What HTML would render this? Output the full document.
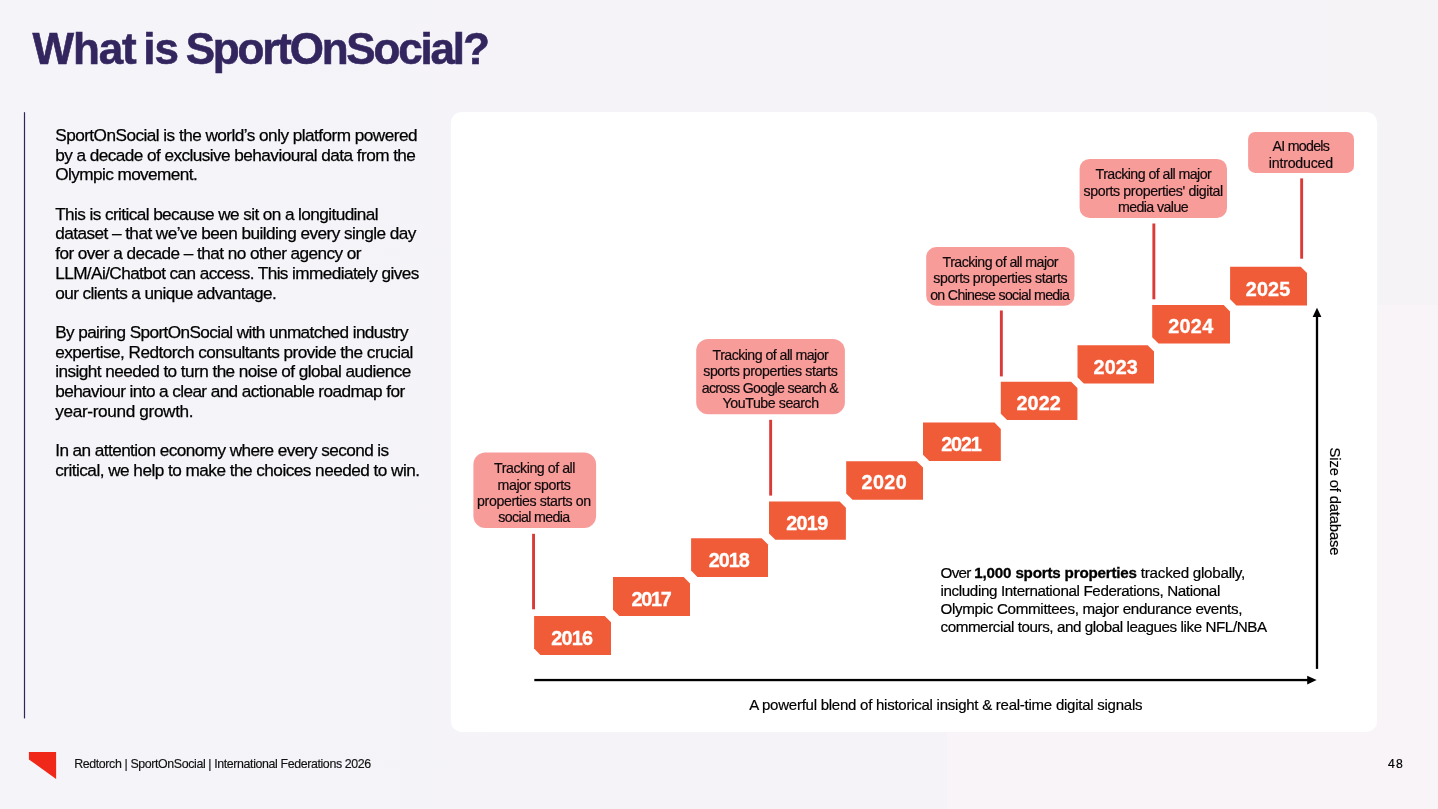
<!DOCTYPE html>
<html lang="en">
<head>
<meta charset="utf-8">
<title>What is SportOnSocial?</title>
<meta name="viewport" content="width=1438, initial-scale=1">
<style>

html,body{margin:0;padding:0;}
body{width:1438px;height:809px;overflow:hidden;background:#f5f3f8;font-family:"Liberation Sans",sans-serif;color:#000;}
#slide{position:relative;width:1438px;height:809px;overflow:hidden;background:linear-gradient(90deg,#f5f4f9 0%,#f5f3f8 50%,#f6f3f7 100%);}
h1,p,footer,section{margin:0;padding:0;}
.shapes{position:absolute;left:0;top:0;width:1438px;height:809px;display:block;}
.ln{position:absolute;white-space:nowrap;display:block;margin:0;padding:0;font-weight:400;}
h1.title .ln{font-size:44px;font-weight:700;color:#33265f;-webkit-text-stroke:0.6px #33265f;}
.body .ln{font-size:17.2px;color:#000;-webkit-text-stroke:0.25px #000;}
.callout .ln{font-size:14.2px;color:#100a0c;-webkit-text-stroke:0.2px #100a0c;}
.years .ln{font-size:19.8px;font-weight:700;color:#fff;-webkit-text-stroke:0.35px #fff;}
.note .ln{font-size:15.2px;color:#000;-webkit-text-stroke:0.2px #000;}
.note strong.ln{font-weight:700;-webkit-text-stroke:0.3px #000;}
.cap .ln{font-size:15px;color:#000;-webkit-text-stroke:0.2px #000;}
.ylabel{position:absolute;left:1330.4px;top:448.4px;width:0;height:0;transform:rotate(90deg);transform-origin:0 0;}
.ylabel .ln{font-size:14.8px;color:#000;-webkit-text-stroke:0.2px #000;}
.foot .ln{font-size:12.4px;color:#111;-webkit-text-stroke:0.15px #111;}
.pg .ln{font-size:12.2px;color:#000;-webkit-text-stroke:0.2px #000;}

</style>
</head>
<body>
<div id="slide">
<h1 class="title"><span class="ln" style="left:32.62px;top:24px;line-height:49px;letter-spacing:-1.161px">What</span> <span class="ln" style="left:143.14px;top:24px;line-height:49px;letter-spacing:-0.834px">is</span> <span class="ln" style="left:185.70px;top:24px;line-height:49px;letter-spacing:-2.185px">SportOnSocial?</span></h1>
<section class="body">
<p>
<span class="ln" style="left:55.21px;top:125px;line-height:20px;letter-spacing:-0.535px">SportOnSocial is the world’s only platform powered</span>
<span class="ln" style="left:55.21px;top:145px;line-height:20px;letter-spacing:-0.555px">by a decade of exclusive behavioural data from the</span>
<span class="ln" style="left:55.21px;top:164px;line-height:20px;letter-spacing:-0.582px">Olympic movement.</span>
</p>
<p>
<span class="ln" style="left:55.21px;top:204px;line-height:20px;letter-spacing:-0.587px">This is critical because we sit on a longitudinal</span>
<span class="ln" style="left:55.21px;top:223px;line-height:20px;letter-spacing:-0.554px">dataset – that we’ve been building every single day</span>
<span class="ln" style="left:55.21px;top:243px;line-height:20px;letter-spacing:-0.554px">for over a decade – that no other agency or</span>
<span class="ln" style="left:55.21px;top:263px;line-height:20px;letter-spacing:-0.589px">LLM/Ai/Chatbot can access. This immediately gives</span>
<span class="ln" style="left:55.21px;top:283px;line-height:20px;letter-spacing:-0.581px">our clients a unique advantage.</span>
</p>
<p>
<span class="ln" style="left:55.21px;top:322px;line-height:20px;letter-spacing:-0.612px">By pairing SportOnSocial with unmatched industry</span>
<span class="ln" style="left:55.21px;top:342px;line-height:20px;letter-spacing:-0.539px">expertise, Redtorch consultants provide the crucial</span>
<span class="ln" style="left:55.21px;top:361px;line-height:20px;letter-spacing:-0.560px">insight needed to turn the noise of global audience</span>
<span class="ln" style="left:55.21px;top:381px;line-height:20px;letter-spacing:-0.593px">behaviour into a clear and actionable roadmap for</span>
<span class="ln" style="left:55.21px;top:401px;line-height:20px;letter-spacing:-0.345px">year-round growth.</span>
</p>
<p>
<span class="ln" style="left:55.21px;top:440px;line-height:20px;letter-spacing:-0.574px">In an attention economy where every second is</span>
<span class="ln" style="left:55.21px;top:460px;line-height:20px;letter-spacing:-0.526px">critical, we help to make the choices needed to win.</span>
</p>
</section>
<section class="chart">
<svg class="shapes" viewBox="0 0 1438 809" width="1438" height="809" aria-hidden="true">
<rect class="tint" x="947" y="305" width="491" height="504" fill="#f8f4f8"/>
<rect class="card" x="450.9" y="111.9" width="926.2" height="620" rx="10.5" ry="10.5" fill="#ffffff"/>
<rect class="rule" x="23.9" y="112.2" width="1.2" height="606.2" fill="#2f2758"/>
<g class="callouts" fill="#f89c9a">
<rect x="473.4" y="452.5" width="122.7" height="75.5" rx="12" ry="12"/>
<rect x="696.2" y="338.9" width="148.7" height="75.4" rx="12" ry="12"/>
<rect x="926.2" y="247.0" width="148.3" height="58.8" rx="10" ry="10"/>
<rect x="1079.6" y="158.9" width="147.4" height="59.1" rx="10" ry="10"/>
<rect x="1248.1" y="132.0" width="105.9" height="40.9" rx="7" ry="7"/>
</g>
<g class="connectors" fill="#db3b38">
<rect x="532.1" y="533.8" width="2.9" height="75.5"/>
<rect x="769.2" y="419.8" width="2.9" height="75.8"/>
<rect x="999.9" y="310.5" width="2.9" height="65.9"/>
<rect x="1152.4" y="223.5" width="2.9" height="75.8"/>
<rect x="1300.2" y="178.4" width="2.9" height="80.3"/>
</g>
<g class="years" fill="#f05b38">
<polygon points="534.1,616.0 604.7,616.0 611.0,622.3 611.0,654.9 540.4,654.9 534.1,648.6"/>
<polygon points="613.0,577.1 683.7,577.1 690.0,583.4 690.0,616.0 619.3,616.0 613.0,609.7"/>
<polygon points="691.1,538.2 761.7,538.2 768.0,544.5 768.0,576.9 697.4,576.9 691.1,570.6"/>
<polygon points="769.0,501.4 839.6,501.4 845.9,507.7 845.9,539.8 775.3,539.8 769.0,533.5"/>
<polygon points="846.2,461.3 916.7,461.3 923.0,467.6 923.0,499.7 852.5,499.7 846.2,493.4"/>
<polygon points="923.0,422.6 994.5,422.6 1000.8,428.9 1000.8,461.0 929.3,461.0 923.0,454.7"/>
<polygon points="1000.8,381.7 1071.1,381.7 1077.4,388.0 1077.4,420.1 1007.1,420.1 1000.8,413.8"/>
<polygon points="1077.5,345.2 1147.7,345.2 1154.0,351.5 1154.0,383.6 1083.8,383.6 1077.5,377.3"/>
<polygon points="1152.2,305.1 1223.7,305.1 1230.0,311.4 1230.0,343.5 1158.5,343.5 1152.2,337.2"/>
<polygon points="1230.1,266.7 1300.7,266.7 1307.0,273.0 1307.0,305.6 1236.4,305.6 1230.1,299.3"/>
</g>
<g class="axes" fill="#000">
<rect x="534.3" y="678.9" width="775" height="2.3"/>
<polygon points="1316.6,680.05 1307.2,675.7 1307.2,684.4"/>
<rect x="1315.85" y="316" width="2.3" height="352.9"/>
<polygon points="1317,307.8 1312.6,317 1321.4,317"/>
</g>
<polygon class="logo" points="28.9,752.1 56.1,752.1 56.1,779 28.9,759.4" fill="#f0281a"/>
</svg>
<div class="callout">
<span class="ln" style="left:494.10px;top:460px;line-height:16px;letter-spacing:-0.458px">Tracking of all</span>
<span class="ln" style="left:497.56px;top:477px;line-height:16px;letter-spacing:-0.436px">major sports</span>
<span class="ln" style="left:477.10px;top:493px;line-height:16px;letter-spacing:-0.390px">properties starts on</span>
<span class="ln" style="left:498.24px;top:509px;line-height:16px;letter-spacing:-0.623px">social media</span>
</div>
<div class="callout">
<span class="ln" style="left:712.57px;top:347px;line-height:16px;letter-spacing:-0.550px">Tracking of all major</span>
<span class="ln" style="left:703.24px;top:363px;line-height:16px;letter-spacing:-0.424px">sports properties starts</span>
<span class="ln" style="left:701.73px;top:380px;line-height:16px;letter-spacing:-0.687px">across Google search &amp;</span>
<span class="ln" style="left:722.57px;top:395px;line-height:16px;letter-spacing:-0.439px">YouTube search</span>
</div>
<div class="callout">
<span class="ln" style="left:942.57px;top:254px;line-height:16px;letter-spacing:-0.560px">Tracking of all major</span>
<span class="ln" style="left:933.32px;top:270px;line-height:16px;letter-spacing:-0.440px">sports properties starts</span>
<span class="ln" style="left:930.13px;top:287px;line-height:16px;letter-spacing:-0.670px">on Chinese social media</span>
</div>
<div class="callout">
<span class="ln" style="left:1095.57px;top:166px;line-height:16px;letter-spacing:-0.550px">Tracking of all major</span>
<span class="ln" style="left:1083.54px;top:183px;line-height:16px;letter-spacing:-0.391px">sports properties' digital</span>
<span class="ln" style="left:1117.94px;top:199px;line-height:16px;letter-spacing:-0.582px">media value</span>
</div>
<div class="callout">
<span class="ln" style="left:1272.57px;top:138px;line-height:16px;letter-spacing:-0.718px">AI models</span>
<span class="ln" style="left:1268.83px;top:155px;line-height:16px;letter-spacing:-0.216px">introduced</span>
</div>
<div class="years">
<span class="ln" style="left:551.31px;top:627px;line-height:22px;letter-spacing:-0.759px">2016</span>
<span class="ln" style="left:631.53px;top:588px;line-height:22px;letter-spacing:-1.247px">2017</span>
<span class="ln" style="left:708.84px;top:549px;line-height:22px;letter-spacing:-1.018px">2018</span>
<span class="ln" style="left:786.31px;top:512px;line-height:22px;letter-spacing:-0.713px">2019</span>
<span class="ln" style="left:861.45px;top:471px;line-height:22px;letter-spacing:0.460px">2020</span>
<span class="ln" style="left:941.31px;top:433px;line-height:22px;letter-spacing:-1.182px">2021</span>
<span class="ln" style="left:1016.45px;top:392px;line-height:22px;letter-spacing:0.106px">2022</span>
<span class="ln" style="left:1093.53px;top:356px;line-height:22px;letter-spacing:0.114px">2023</span>
<span class="ln" style="left:1168.31px;top:315px;line-height:22px;letter-spacing:0.284px">2024</span>
<span class="ln" style="left:1245.74px;top:278px;line-height:22px;letter-spacing:0.152px">2025</span>
</div>
<div class="note"><p>
<span class="ln" style="left:940.47px;top:564px;line-height:17px;letter-spacing:-0.650px">Over</span>
<strong class="ln" style="left:974.36px;top:564px;line-height:17px;letter-spacing:-0.201px">1,000 sports properties</strong>
<span class="ln" style="left:1140.87px;top:564px;line-height:17px;letter-spacing:-0.262px">tracked globally,</span>
<span class="ln" style="left:940.47px;top:582px;line-height:17px;letter-spacing:-0.376px">including International Federations, National</span>
<span class="ln" style="left:940.47px;top:600px;line-height:17px;letter-spacing:-0.327px">Olympic Committees, major endurance events,</span>
<span class="ln" style="left:940.47px;top:618px;line-height:17px;letter-spacing:-0.424px">commercial tours, and global leagues like NFL/NBA</span>
</p></div>
<div class="cap"><p><span class="ln" style="left:749.16px;top:696px;line-height:17px;letter-spacing:-0.247px">A powerful blend of historical insight &amp; real-time digital signals</span></p></div>
<div class="ylabel"><span class="ln" style="left:-0.40px;top:-13px;line-height:16px;letter-spacing:-0.159px">Size of database</span></div>
</section>
<footer>
<div class="foot"><span class="ln" style="left:74.22px;top:757px;line-height:14px;letter-spacing:-0.384px">Redtorch | SportOnSocial | International Federations 2026</span></div>
<div class="pg"><span class="ln" style="left:1388.11px;top:757px;line-height:14px;letter-spacing:1.206px">48</span></div>
</footer>
</div>
</body>
</html>
